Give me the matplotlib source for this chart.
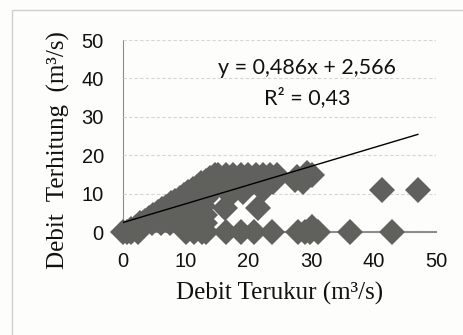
import matplotlib
matplotlib.use("Agg")
import matplotlib.pyplot as plt
from matplotlib.patches import Rectangle

edge_x = [0.6, 1.3, 2.0, 2.7, 3.4, 4.1, 4.8, 5.5, 6.2, 6.9, 7.6, 8.3, 9.0, 9.7, 10.4, 11.1, 11.8, 12.5, 13.2, 13.9, 14.6]
edge_y = [0.0, 0.8, 1.5, 2.3, 3.0, 3.7, 4.5, 5.2, 6.0, 6.7, 7.5, 8.2, 9.0, 9.7, 10.4, 11.2, 11.9, 12.7, 13.4, 14.1, 14.9]

cloud_x = [0.0, 1.2, 2.4, 10.0, 11.3, 12.6, 13.2,
           3.2, 4.6, 6.0, 7.4, 8.8, 10.2, 11.6, 13.0,
           5.2, 6.6, 8.0, 9.4, 10.8, 12.2, 13.0,
           7.4, 8.8, 10.2, 11.6, 12.8,
           9.6, 11.0, 12.4, 13.2,
           11.8, 13.2, 14.6, 16.0, 17.4, 18.6,
           13.8, 15.2, 16.6, 18.0, 19.4, 20.8, 22.0,
           15.2, 16.4, 17.6, 18.8, 20.0, 21.2, 22.4, 23.4]
cloud_y = [0.0, 0.0, 0.0, 0.0, 0.0, 0.0, 0.0,
           2.4, 2.4, 2.4, 2.4, 2.4, 2.4, 2.4, 2.4,
           4.6, 4.6, 4.6, 4.6, 4.6, 4.6, 4.6,
           6.8, 6.8, 6.8, 6.8, 6.8,
           9.0, 9.0, 9.0, 9.0,
           11.4, 11.4, 11.4, 11.6, 11.8, 12.0,
           13.2, 13.2, 13.2, 13.2, 13.2, 13.2, 13.2,
           15.0, 15.0, 15.0, 15.0, 15.0, 15.0, 15.0, 15.0]

# scattered observations
spread_x = [16.3, 21.6, 17.6, 19.2, 22.4, 24.0, 24.5, 27.5, 27.7, 28.8, 29.3, 30.1, 41.3, 47.1,
            16.5, 18.8, 20.9, 23.8, 28.0, 29.1, 29.9, 30.2, 31.2, 36.3, 43.0]
spread_y = [6.3, 6.2, 10.5, 10.5, 11.0, 13.1, 14.9, 13.6, 14.4, 13.1, 15.3, 14.9, 11.0, 11.0,
            0.0, 0.0, 0.0, 0.0, 0.0, 0.0, 0.0, 1.5, 0.0, 0.0, 0.0]

slope = 0.486
intercept = 2.566
trend_x = [0, 47.1]

xticks = [0, 10, 20, 30, 40, 50]
yticks = [0, 10, 20, 30, 40, 50]

W, H = 463, 335
fig = plt.figure(figsize=(W / 100, H / 100), dpi=100)
fig.patch.set_facecolor('#fdfdfc')
fig.patches.append(Rectangle((12 / W, -0.1), 1.2, (H - 10) / H + 0.1, transform=fig.transFigure,
                             fill=False, edgecolor='#cfcfcf', linewidth=1.0))

x0, x1, y0, y1 = 123.3, 436.0, 232.3, 40.0
ax = fig.add_axes([x0 / W, (H - y0) / H, (x1 - x0) / W, (y0 - y1) / H])
ax.set_facecolor('none')
ax.set_xlim(0, 50)
ax.set_ylim(0, 50)

col = '#60615c'
for xs, ys in [(edge_x, edge_y), (cloud_x, cloud_y), (spread_x, spread_y)]:
    ax.plot(xs, ys, 'D', color=col, markersize=13, markeredgewidth=0, linestyle='none',
            clip_on=False, zorder=3)

ax.plot(trend_x, [slope * v + intercept for v in trend_x], color='black', linewidth=1.0, zorder=4)

ax.set_xticks(xticks)
ax.set_yticks(yticks)
ax.tick_params(length=0, pad=14, labelsize=14.5, labelcolor='#111111')
for lab in ax.get_xticklabels() + ax.get_yticklabels():
    lab.set_family('Liberation Sans')

ax.grid(axis='y', color='#d6d6d6', linestyle=(0, (3, 2)), linewidth=0.8, zorder=0)
for s in ['top', 'right']:
    ax.spines[s].set_visible(False)
ax.spines['left'].set_color('#8c8c8c')
ax.spines['bottom'].set_color('#8c8c8c')
ax.spines['bottom'].set_linewidth(1.5)
ax.spines['left'].set_zorder(1)
ax.spines['bottom'].set_zorder(1)

ax.text(29.4, 42.7, 'y = 0,486x + 2,566', ha='center', va='center', fontsize=15.5,
        family='Lato', color='#111111')
ax.text(29.4, 35.0, 'R² = 0,43', ha='center', va='center', fontsize=15.5,
        family='Lato', color='#111111')

fig.text(279.5 / W, (H - 293) / H, 'Debit Terukur (m³/s)', ha='center', va='center',
         fontsize=18, family='Liberation Serif', color='#111111')
fig.text(58 / W, (H - 150.5) / H, 'Debit  Terhitung  (m³/s)', ha='center', va='center',
         rotation=90, fontsize=18, family='Liberation Serif', color='#111111')

fig.savefig('out.png', dpi=100, facecolor=fig.get_facecolor())
